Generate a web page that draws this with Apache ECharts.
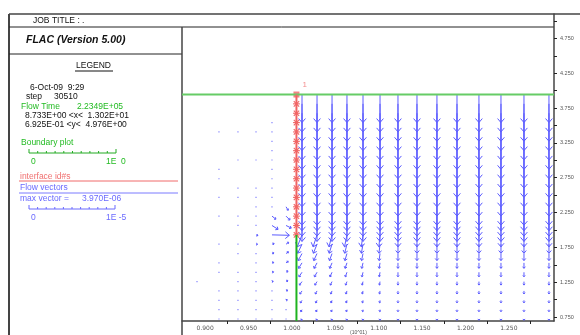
<!DOCTYPE html>
<html>
<head>
<meta charset="utf-8">
<script src="https://cdn.jsdelivr.net/npm/echarts@6/dist/echarts.min.js"></script>
<style>
  html, body { margin: 0; padding: 0; background: #fff; }
  #chart { width: 580px; height: 335px; }
</style>
</head>
<body>
<div id="chart"></div>
<script>
// plot window (x in 10^1 m, y in m)
const xMin = 0.8733, xMax = 1.302;
const yMin = 0.6925, yMax = 5.10;

const xTickValues = [0.925, 0.975, 1.025, 1.075, 1.125, 1.175, 1.225, 1.275];
const xLabelValues = [0.900, 0.950, 1.000, 1.050, 1.100, 1.150, 1.200, 1.250];
const yTickValues = [0.75, 1.0, 1.25, 1.5, 1.75, 2.0, 2.25, 2.5, 2.75, 3.0, 3.25, 3.5, 3.75, 4.0, 4.25, 4.5, 4.75, 5.0];
const yLabelValues = [0.75, 1.25, 1.75, 2.25, 2.75, 3.25, 3.75, 4.25, 4.75];

// grid node rows (top = ground surface)
const rowY = [3.944, 3.810, 3.675, 3.541, 3.407, 3.272, 3.138, 3.004, 2.870, 2.735,
  2.601, 2.467, 2.332, 2.198, 2.064, 1.929, 1.795, 1.661, 1.527, 1.392,
  1.258, 1.124, 0.989, 0.855, 0.721];

// node columns right of the interface, and left of it
const rightColX = [1.0116, 1.0289, 1.0462, 1.0634, 1.0819, 1.1015, 1.1222, 1.1441, 1.1671, 1.1902, 1.2155, 1.2409, 1.2674, 1.2962];
const leftColX = [0.8906, 0.9159, 0.9378, 0.9586, 0.9770, 0.9932];

// interface (wall) position
const wallX = 1.0052;
const wallTopRow = 0, wallBottomRow = 15;

// flow velocity, units of 1E-6 (vertical, right side, per row)
const vyRight = [-3.23, -3.23, -3.23, -3.23, -3.23, -3.23, -3.23, -3.23, -3.23, -3.23,
  -3.23, -3.20, -2.76, -2.30, -1.84, -1.38, -1.04, -0.81, -0.63, -0.52,
  -0.40, -0.35, -0.29, -0.23, -0.14];

// horizontal velocity below the wall tip, first six right columns, rows 15..24
const lowRowStart = 15;
const vxLowRight = [
  [-0.55, -0.50, -0.45, -0.40, -0.35, -0.30, -0.25, -0.20, -0.15, -0.10],
  [-0.45, -0.42, -0.38, -0.34, -0.30, -0.25, -0.20, -0.16, -0.12, -0.08],
  [-0.35, -0.33, -0.30, -0.27, -0.24, -0.20, -0.16, -0.13, -0.10, -0.06],
  [-0.28, -0.26, -0.24, -0.22, -0.19, -0.16, -0.13, -0.10, -0.08, -0.05],
  [-0.20, -0.19, -0.17, -0.15, -0.13, -0.11, -0.09, -0.07, -0.05, -0.03],
  [-0.13, -0.12, -0.11, -0.10, -0.09, -0.07, -0.06, -0.05, -0.03, -0.02]
];

// left side: rows with (near zero) vectors per column
const leftDotRows = [
  [20],
  [4, 8, 9, 11, 13, 16, 18, 19, 21, 22, 23, 24],
  [4, 7, 10, 11, 13, 14, 16, 17, 19, 20, 21, 22, 23, 24],
  [4, 7, 10, 11, 12, 13, 14, 17, 18, 19, 20, 21, 22, 23, 24],
  [3, 4, 5, 6, 7, 8, 9, 10, 11, 12, 21, 22, 23, 24],
  [23, 24]
];

// left side vectors around the wall tip: [col, row, vx, vy]
const tipVectors = [
  [4, 13, 0.45, -0.35], [4, 14, 0.7, -0.45], [4, 15, 2.0, -0.05],
  [5, 12, 0.25, -0.4], [5, 13, 0.45, -0.45], [5, 14, 0.6, -0.3],
  [5, 16, 0.3, 0.22], [5, 17, 0.28, 0.2], [5, 18, 0.25, 0.18], [5, 19, 0.22, 0.16],
  [5, 20, 0.2, 0.14], [5, 21, 0.18, 0.1], [5, 22, 0.14, 0.08],
  [4, 16, 0.25, 0.08], [4, 17, 0.22, 0.08], [4, 18, 0.2, 0.06], [4, 19, 0.18, 0.05], [4, 20, 0.14, 0.04],
  [3, 15, 0.22, -0.08], [3, 16, 0.18, 0.0]
];

const VEC = '#5c5cff';
const VEC_DOT = '#8484ff';
const RED = '#f06464';
const GREEN_TOP = '#66cc66';
const GREEN = '#1fb31f';
const FRAME = '#444';

const vectorData = [];
rightColX.forEach(function (x, c) {
  rowY.forEach(function (y, r) {
    let vx = 0;
    if (c < vxLowRight.length && r >= lowRowStart) vx = vxLowRight[c][r - lowRowStart];
    vectorData.push([x, y, vx, vyRight[r]]);
  });
});
leftColX.forEach(function (x, c) {
  leftDotRows[c].forEach(function (r) { vectorData.push([x, rowY[r], 0, 0]); });
});
tipVectors.forEach(function (v) {
  vectorData.push([leftColX[v[0]], rowY[v[1]], v[2], v[3]]);
});

const starData = [];
for (let r = wallTopRow + 1; r <= wallBottomRow; r++) starData.push([wallX, rowY[r]]);

function renderVector(params, api) {
  const p = api.coord([api.value(0), api.value(1)]);
  // 1E-5 is drawn as long as 1 m on the x scale (see legend)
  const k = api.size([0.1, 0])[0] / 10;
  const dx = api.value(2) * k, dy = -api.value(3) * k;
  const len = Math.sqrt(dx * dx + dy * dy);
  if (len < 1.2) {
    return { type: 'rect', shape: { x: p[0] - 0.6, y: p[1] - 0.6, width: 1.2, height: 1.2 }, style: { fill: VEC_DOT } };
  }
  const ux = dx / len, uy = dy / len;
  const tx = p[0] + dx, ty = p[1] + dy;
  const h = Math.min(4, Math.max(1.3, len * 0.3)), w = h * 0.85;
  return {
    type: 'group',
    children: [
      { type: 'line', shape: { x1: p[0], y1: p[1], x2: tx, y2: ty }, style: { stroke: VEC, lineWidth: 1 } },
      {
        type: 'polyline',
        shape: { points: [[tx - ux * h - uy * w, ty - uy * h + ux * w], [tx, ty], [tx - ux * h + uy * w, ty - uy * h - ux * w]] },
        style: { stroke: VEC, lineWidth: 1, fill: null }
      }
    ]
  };
}

function renderStar(params, api) {
  const p = api.coord([api.value(0), api.value(1)]);
  const s = 3.4, d = 2.7;
  const st = { stroke: RED, lineWidth: 1.1 };
  return {
    type: 'group',
    children: [
      { type: 'line', shape: { x1: p[0] - s, y1: p[1], x2: p[0] + s, y2: p[1] }, style: st },
      { type: 'line', shape: { x1: p[0] - d, y1: p[1] - d, x2: p[0] + d, y2: p[1] + d }, style: st },
      { type: 'line', shape: { x1: p[0] - d, y1: p[1] + d, x2: p[0] + d, y2: p[1] - d }, style: st }
    ]
  };
}

// legend helpers
const FONT = '8.5px "Liberation Sans", Arial, sans-serif';
function txt(text, x, y, color, font) {
  return { type: 'text', silent: true, style: { text: text, x: x, y: y, fill: color || '#111', font: font || FONT, verticalAlign: 'middle' } };
}
function seg(x1, y1, x2, y2, color, width) {
  return { type: 'line', silent: true, shape: { x1: x1, y1: y1, x2: x2, y2: y2 }, style: { stroke: color, lineWidth: width || 1 } };
}
function scaleBar(x0, y, len, color) {
  const out = [seg(x0, y, x0 + len, y, color, 1)];
  for (let i = 0; i <= 10; i++) {
    const tall = (i === 0 || i === 10) ? 4 : 2;
    out.push(seg(x0 + len * i / 10, y, x0 + len * i / 10, y - tall, color, 1));
  }
  return out;
}

const graphics = [
  seg(9, 14, 580, 14, FRAME, 1.5),
  seg(9, 14, 9, 335, FRAME, 2),
  seg(9, 27, 554, 27, '#222', 1),
  seg(9, 54, 182, 54, '#222', 1),
  seg(182, 27, 182, 335, FRAME, 1.5),
  txt('JOB TITLE : .', 33, 21),
  txt('FLAC (Version 5.00)', 26, 40, '#111', 'italic bold 10.5px "Liberation Sans", Arial, sans-serif'),
  txt('LEGEND', 76, 66),
  seg(75, 71, 113, 71, '#111', 1),
  txt('6-Oct-09  9:29', 30, 88),
  txt('step', 26, 97),
  txt('30510', 54, 97),
  txt('Flow Time', 21, 107, '#22bb22'),
  txt('2.2349E+05', 77, 107, '#22bb22'),
  txt('8.733E+00 <x<  1.302E+01', 25, 116),
  txt('6.925E-01 <y<  4.976E+00', 25, 124.5),
  txt('Boundary plot', 21, 143, '#22bb22'),
  txt('0', 31, 162, '#22bb22'),
  txt('1E  0', 106, 162, '#22bb22'),
  txt('interface id#s', 20, 176.5, '#f07070'),
  seg(19, 181, 178, 181, '#f06a6a', 1),
  txt('Flow vectors', 20, 188, '#6a6aff'),
  seg(19, 193, 178, 193, '#7a7aff', 1),
  txt('max vector =', 20, 199, '#6a6aff'),
  txt('3.970E-06', 82, 199, '#6a6aff'),
  txt('0', 31, 218, '#6a6aff'),
  txt('1E -5', 106, 218, '#6a6aff'),
  txt('(10^01)', 350, 333, '#555', '5px "Liberation Sans", Arial, sans-serif')
].concat(scaleBar(29, 153, 87, '#22aa22'), scaleBar(29, 209, 86, '#6a6aff'));

const chart = echarts.init(document.getElementById('chart'), null, { renderer: 'canvas' });
chart.setOption({
  animation: false,
  backgroundColor: '#fff',
  grid: { left: 182, right: 26, top: 14, bottom: 14 },
  xAxis: {
    type: 'value', min: xMin, max: xMax,
    axisLine: { show: true, lineStyle: { color: FRAME, width: 1.5 } },
    axisTick: { show: true, length: 3, customValues: xTickValues, lineStyle: { color: '#222' } },
    axisLabel: {
      customValues: xLabelValues, margin: 4, fontSize: 6, color: '#555',
      fontFamily: 'DejaVu Sans', formatter: function (v) { return v.toFixed(3); }
    },
    splitLine: { show: false }
  },
  yAxis: {
    type: 'value', position: 'right', min: yMin, max: yMax,
    axisLine: { show: true, lineStyle: { color: FRAME, width: 1.5 } },
    axisTick: { show: true, length: 3, customValues: yTickValues, lineStyle: { color: '#222' } },
    axisLabel: {
      customValues: yLabelValues, margin: 6, fontSize: 5.5, color: '#555',
      fontFamily: 'Liberation Sans', formatter: function (v) { return v.toFixed(3); }
    },
    splitLine: { show: false }
  },
  graphic: graphics,
  series: [
    {
      type: 'custom', name: 'Flow vectors', renderItem: renderVector,
      data: vectorData, encode: { x: 0, y: 1 }, silent: true
    },
    {
      type: 'line', name: 'Boundary top', data: [[xMin, rowY[0]], [xMax, rowY[0]]],
      symbol: 'none', lineStyle: { color: GREEN_TOP, width: 2 }, silent: true
    },
    {
      type: 'line', name: 'Boundary', data: [[wallX, yMin], [wallX, rowY[wallBottomRow]]],
      symbol: 'none', lineStyle: { color: GREEN, width: 2 }, silent: true
    },
    {
      type: 'line', name: 'Interface', data: [[wallX, rowY[wallTopRow]], [wallX, rowY[wallBottomRow]]],
      symbol: 'none', lineStyle: { color: RED, width: 2 }, silent: true
    },
    {
      type: 'custom', name: 'Interface nodes', renderItem: renderStar,
      data: starData, encode: { x: 0, y: 1 }, silent: true
    },
    {
      type: 'scatter', name: 'Interface id', data: [[wallX, rowY[wallTopRow]]],
      symbol: 'rect', symbolSize: 6, itemStyle: { color: RED }, silent: true,
      label: { show: true, formatter: '1', position: [9, -11], color: '#f07070', fontSize: 8, fontFamily: 'Liberation Sans' }
    }
  ]
});
</script>
</body>
</html>
